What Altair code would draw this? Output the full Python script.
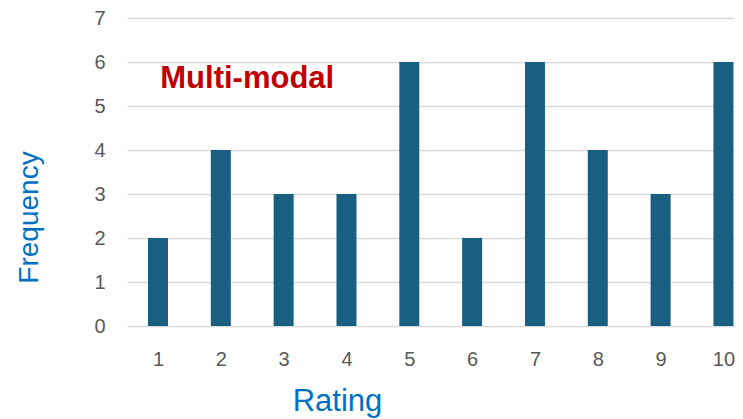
import altair as alt
import pandas as pd

ratings = [1, 2, 3, 4, 5, 6, 7, 8, 9, 10]
frequencies = [2, 4, 3, 3, 6, 2, 6, 4, 3, 6]

note_text = ["Multi-modal"]
note_x = [2.42]
note_y = [5.41]

df = pd.DataFrame({"Rating": ratings, "Frequency": frequencies})
notes = pd.DataFrame({"x": note_x, "y": note_y, "label": note_text})

FONT = "Liberation Sans"

x_scale = alt.Scale(domain=[0.5066, 10.184], nice=False, zero=False, padding=0)
y_scale = alt.Scale(domain=[0, 7], nice=False, padding=0)

bars = alt.Chart(df).mark_bar(size=20, color="#185F82").encode(
    x=alt.X(
        "Rating:Q",
        scale=x_scale,
        axis=alt.Axis(
            values=ratings,
            format="d",
            grid=False,
            domain=False,
            ticks=False,
            labelFont=FONT,
            labelFontSize=20,
            labelColor="#595959",
            labelPadding=23,
            labelFlush=False,
            title="Rating",
            titleFont=FONT,
            titleFontSize=31,
            titleFontWeight="normal",
            titleColor="#0070C0",
            titleX=210,
            titleY=84,
            titleAlign="center",
            titleBaseline="alphabetic",
        ),
    ),
    y=alt.Y(
        "Frequency:Q",
        scale=y_scale,
        axis=alt.Axis(
            values=[0, 1, 2, 3, 4, 5, 6, 7],
            grid=True,
            gridColor="#D9D9D9",
            gridWidth=1.5,
            domain=False,
            ticks=False,
            labelFont=FONT,
            labelFontSize=20,
            labelColor="#595959",
            labelPadding=22,
            title="Frequency",
            titleFont=FONT,
            titleFontSize=28,
            titleFontWeight="normal",
            titleColor="#0070C0",
            titleX=-90,
            titleY=199,
            titleAlign="center",
            titleBaseline="alphabetic",
        ),
    ),
)

text = alt.Chart(notes).mark_text(
    font=FONT,
    fontSize=31,
    fontWeight="bold",
    color="#C00000",
    align="center",
    baseline="alphabetic",
).encode(
    x=alt.X("x:Q", scale=x_scale),
    y=alt.Y("y:Q", scale=y_scale),
    text="label:N",
)

chart = (
    alt.layer(bars, text)
    .properties(
        width=608,
        height=308,
        autosize=alt.AutoSizeParams(type="none"),
        padding={"left": 119, "top": 10, "right": 0, "bottom": 92},
    )
    .configure(background="white")
    .configure_view(stroke=None)
)

chart.save("out.html", embed_options={"renderer": "svg", "actions": False})
